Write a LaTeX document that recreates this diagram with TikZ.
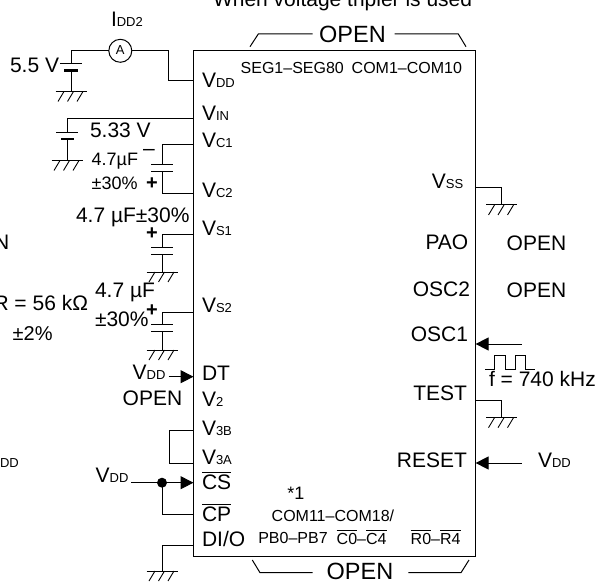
\documentclass[tikz,border=0pt]{standalone}
\usepackage{fontspec}
\setmainfont{Liberation Sans}
\usetikzlibrary{arrows.meta}
\newcommand\fs[1]{\fontsize{#1}{#1}\selectfont}
\newcommand\Vsub[2]{#1{\fs{13}#2}}
\newcommand\ovl[1]{\vbox{\hrule height .9pt\kern 2pt\hbox{#1}}}
\tikzset{
  wire/.style={line width=1pt,line join=miter},
  plate/.style={line width=1pt},
  thickplate/.style={line width=2.2pt},
  pinarrow/.style={wire,-{Triangle[length=13pt,width=13pt]}},
  lblw/.style={anchor=base west,inner sep=0pt,outer sep=0pt,font=\fs{21}},
  lble/.style={anchor=base east,inner sep=0pt,outer sep=0pt,font=\fs{21}},
  lblc/.style={anchor=base,inner sep=0pt,outer sep=0pt,font=\fs{21}},
  small/.style={font=\fs{16}},
  gnd/.pic={\draw[wire] (-15.5,0) -- (15.5,0);
    \foreach \d in {-13,-3.5,6}{\draw[line width=.9pt] (\d,10) -- (\d+6,0);}},
  cap/.pic={\draw[plate] (-11,0) -- (11,0) (-11,7) -- (11,7);},
}
\begin{document}
\begin{tikzpicture}[x=1pt,y=-1pt]
\useasboundingbox (0,0) rectangle (603,583);
% IC body
\node[draw,line width=1.2pt,minimum width=282pt,minimum height=506pt,inner sep=0pt,outer sep=0pt] (ic) at (334.6,303.6) {};
% named pin coordinates
\coordinate (pVDD) at (193.5,81);
\coordinate (pVIN) at (193.5,119);
\coordinate (pC1) at (193.5,144.5);
\coordinate (pC2) at (193.5,194);
\coordinate (pS1) at (193.5,235);
\coordinate (pS2) at (193.5,312);
\coordinate (pDT) at (193.5,376.7);
\coordinate (p3B) at (193.5,430);
\coordinate (p3A) at (193.5,463);
\coordinate (pCS) at (193.5,482.7);
\coordinate (pCP) at (193.5,514.7);
\coordinate (pDIO) at (193.5,545.7);
\coordinate (pVSS) at (475.6,188);
\coordinate (pOSC) at (475.6,344);
\coordinate (pTEST) at (475.6,400);
\coordinate (pRES) at (475.6,463);
\coordinate (fOSC) at (521.7,344);
\coordinate (fRES) at (521.7,463);
\coordinate (fDT) at (168.5,376.7);
\coordinate (fCS) at (131,482.7);
% VDD supply and ammeter
\node[draw,circle,wire,minimum size=23pt,inner sep=0pt,outer sep=0pt,font=\fs{13}] (amm) at (120.3,50.8) {\raisebox{1.5pt}{A}};
\draw[wire] (amm.west) -- (71,50.8) -- (71,64);
\draw[plate] (60,64) -- (81.5,64);
\draw[thickplate] (64,70.5) -- (77.5,70.5);
\draw[wire] (71,70.5) -- (71,91.5);
\pic at (71,91.5) {gnd};
\draw[wire] (amm.east) -- (168,50.8) -- (168,81) -- (pVDD);
% VIN supply
\draw[wire] (pVIN) -- (67,119) -- (67,132.5);
\draw[plate] (56,132.5) -- (78,132.5);
\draw[thickplate] (61,139) -- (73.5,139);
\draw[wire] (67,139) -- (67,160.5);
\pic at (67,160.5) {gnd};
% C1-C2
\draw[wire] (pC1) -- (162,144.5) -- (162,165);
\pic at (162,165) {cap};
\draw[wire] (162,172) -- (162,194) -- (pC2);
% VS1
\draw[wire] (pS1) -- (162,235) -- (162,247);
\pic at (162,247) {cap};
\draw[wire] (162,254) -- (162,272);
\pic at (162,272) {gnd};
% VS2
\draw[wire] (pS2) -- (162,312) -- (162,324.3);
\pic at (162,324.3) {cap};
\draw[wire] (162,331.3) -- (162,350);
\pic at (162,350) {gnd};
% DT
\draw[pinarrow] (fDT) -- (pDT);
% V3B V3A
\draw[wire] (p3B) -- (169.5,430) -- (169.5,463) -- (p3A);
% CS CP
\draw[pinarrow] (fCS) -- (pCS);
\fill (162,482.7) circle (5pt);
\draw[wire] (162,482.7) -- (162,514.7) -- (pCP);
% DI/O
\draw[wire] (pDIO) -- (162,545.7) -- (162,571);
\pic at (162,571) {gnd};
% right side
\draw[wire] (pVSS) -- (501,188) -- (501,205);
\pic at (501.5,205) {gnd};
\draw[pinarrow] (fOSC) -- (pOSC);
\draw[wire] (485,369) -- (494.3,369) -- (494.3,355.7) -- (505,355.7) -- (505,369) -- (515,369) -- (515,355.7) -- (525,355.7) -- (525,369) -- (535,369);
\draw[wire] (pTEST) -- (501,400) -- (501,417.7);
\pic at (501.5,417.7) {gnd};
\draw[pinarrow] (fRES) -- (pRES);
% OPEN brackets
\draw[wire] (250,46.7) -- (258.3,34) -- (312.7,34);
\draw[wire] (394.7,34) -- (458.3,34) -- (466,46.7);
\draw[wire] (252.3,560) -- (260,572.7) -- (312.7,572.7);
\draw[wire] (408.3,572.7) -- (461,572.7) -- (469,560);
% texts
\node[lblw] (tWhen) at (213,7) {When voltage tripler is used};
\node[lblc,font=\fs{23.5}] (tOpenT) at (352.5,42.5) {OPEN};
\node[lblc,font=\fs{23.5}] (tOpenB) at (360,579) {OPEN};
\node[lblw] (tIdd) at (111,26.7) {\Vsub{I}{DD2}};
\node[lblw] (t55) at (10,73) {5.5 V};
\node[lblw] (t533) at (90,137.7) {5.33 V};
\node[lblw,font=\fs{18}] (tC47) at (91.7,165.7) {4.7µF};
\node[lblw,font=\fs{18}] (tC30) at (91.7,190) {±30\%};
\node[lblc] (tMinus) at (149,155.6) {–};
\node[anchor=center,inner sep=0pt,font=\fs{20}\bfseries] (tPlus1) at (152,183.3) {+};
\node[lblw] (tS1) at (76,222.7) {4.7 µF±30\%};
\node[anchor=center,inner sep=0pt,font=\fs{20}\bfseries] (tPlus2) at (152,234) {+};
\node[lblw] (tS2a) at (95,297) {4.7 µF};
\node[lblw] (tS2b) at (95,326.7) {±30\%};
\node[anchor=center,inner sep=0pt,font=\fs{20}\bfseries] (tPlus3) at (152,310.7) {+};
\node[lble] (tN) at (9.3,250) {N};
\node[lble] (tR) at (88,310) {R = 56 kΩ};
\node[lblw,font=\fs{20}] (tR2) at (12.7,340) {±2\%};
\node[lblw,font=\fs{13}] (tDD) at (0,467.7) {DD};
\node[lblw] (tVddDT) at (132.7,379.3) {\Vsub{V}{DD}};
\node[lblw] (tOpenV2) at (122.7,405) {OPEN};
\node[lblw] (tVddCS) at (95.7,482.7) {\Vsub{V}{DD}};
% left pins
\node[lblw] (nVDD) at (202,87.3) {\Vsub{V}{DD}};
\node[lblw] (nVIN) at (202,120.7) {\Vsub{V}{IN}};
\node[lblw] (nC1) at (202,147.7) {\Vsub{V}{C1}};
\node[lblw] (nC2) at (202,198) {\Vsub{V}{C2}};
\node[lblw] (nS1) at (202,236) {\Vsub{V}{S1}};
\node[lblw] (nS2) at (202,312.7) {\Vsub{V}{S2}};
\node[lblw] (nDT) at (202,380.7) {DT};
\node[lblw] (nV2) at (202,406.7) {\Vsub{V}{2}};
\node[lblw] (n3B) at (202,435) {\Vsub{V}{3B}};
\node[lblw] (n3A) at (202,464) {\Vsub{V}{3A}};
\node[lblw] (nCS) at (202,489.3) {\ovl{CS}};
\node[lblw] (nCP) at (202,521.7) {\ovl{CP}};
\node[lblw] (nDIO) at (202,546.7) {DI/O};
% right pins
\node[lble] (nVSS) at (463.3,189) {\Vsub{V}{SS}};
\node[lble] (nPAO) at (468.3,249) {PAO};
\node[lble] (nO2) at (470,296.7) {OSC2};
\node[lble] (nO1) at (468,341.7) {OSC1};
\node[lble] (nTE) at (467,400.7) {TEST};
\node[lble] (nRE) at (467,467) {RESET};
\node[lblw] (tOp1) at (506.7,250.7) {OPEN};
\node[lblw] (tOp2) at (506.7,297.7) {OPEN};
\node[lblw] (tF) at (489,386.7) {f = 740 kHz};
\node[lblw] (tVddR) at (538,467.3) {\Vsub{V}{DD}};
% top and bottom pins
\node[lblw,small] (nSEG) at (240.7,74) {SEG1–SEG80};
\node[lblw,small] (nCOM) at (351.7,74) {COM1–COM10};
\node[lblw,font=\fs{18}] (tStar) at (287.3,499) {*1};
\node[lblw,small] (nCOM2) at (271.7,521.7) {COM11–COM18/};
\node[lblw,small] (nPB) at (258.3,543.3) {PB0–PB7};
\node[lblw,small] (nCC) at (336.7,544) {\ovl{C0}–\ovl{C4}};
\node[lblw,small] (nRR) at (410.7,544) {\ovl{R0}–\ovl{R4}};
\end{tikzpicture}
\end{document}
